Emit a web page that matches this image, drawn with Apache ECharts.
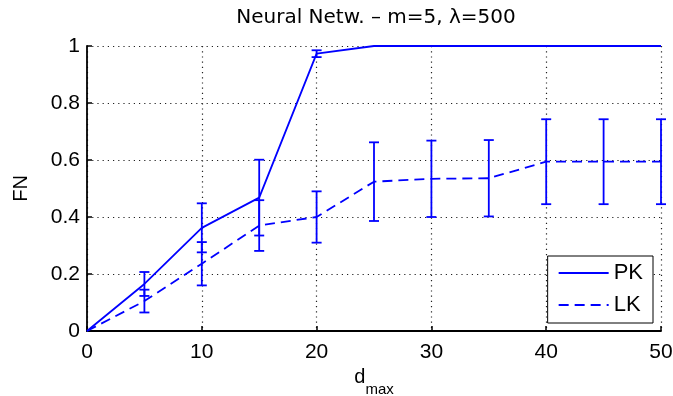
<!DOCTYPE html>
<html>
<head>
<meta charset="utf-8">
<script src="https://cdn.jsdelivr.net/npm/echarts@6/dist/echarts.min.js"></script>
<style>
  html, body { margin: 0; padding: 0; background: #fff; }
  #chart { width: 673px; height: 396px; }
</style>
</head>
<body>
<div id="chart"></div>
<script>
// d_max values
const dmax = [0, 5, 10, 15, 20, 25, 30, 35, 40, 45, 50];
// PK mean and error (half-width)
const pkMean = [0, 0.165, 0.362, 0.468, 0.973, 1, 1, 1, 1, 1, 1];
const pkErr  = [0, 0.042, 0.086, 0.133, 0.012, 0, 0, 0, 0, 0, 0];
// LK mean and error
const lkMean = [0, 0.105, 0.236, 0.370, 0.400, 0.524, 0.534, 0.536, 0.594, 0.594, 0.594];
const lkErr  = [0, 0.040, 0.076, 0.089, 0.090, 0.138, 0.134, 0.134, 0.149, 0.149, 0.149];

const blue = '#0000ff';
const font = 'Liberation Sans, Arial, sans-serif';

function errData(mean, err) {
    return dmax.map((x, i) => [x, mean[i] - err[i], mean[i] + err[i]]);
}

function errBars(params, api) {
    const x = api.value(0);
    const lo = api.coord([x, api.value(1)]);
    const hi = api.coord([x, api.value(2)]);
    if (Math.abs(lo[1] - hi[1]) < 0.5) return null;
    const w = 5;
    const style = { stroke: blue, lineWidth: 1.8 };
    return {
        type: 'group',
        children: [
            { type: 'line', shape: { x1: lo[0], y1: lo[1], x2: hi[0], y2: hi[1] }, style: style },
            { type: 'line', shape: { x1: lo[0] - w, y1: lo[1], x2: lo[0] + w, y2: lo[1] }, style: style },
            { type: 'line', shape: { x1: hi[0] - w, y1: hi[1], x2: hi[0] + w, y2: hi[1] }, style: style }
        ]
    };
}

const gridLine = { show: true, lineStyle: { type: [1.2, 4], color: '#222', width: 1.2 } };

let option = {
    animation: false,
    title: {
        text: 'Neural Netw. \u2013 m=5, \u03bb=500',
        left: 371,
        textAlign: 'center',
        top: 3,
        textStyle: { fontFamily: 'DejaVu Sans, sans-serif', fontSize: 20, fontWeight: 'normal', color: '#000' }
    },
    legend: {
        data: ['PK', 'LK'],
        orient: 'vertical',
        right: 20,
        bottom: 73,
        backgroundColor: '#fff',
        borderColor: '#000',
        borderWidth: 1,
        borderRadius: 0,
        padding: [6, 10, 7, 10],
        itemGap: 10,
        itemWidth: 50,
        itemHeight: 20,
        itemStyle: { opacity: 0 },
        textStyle: { fontFamily: font, fontSize: 22, color: '#000' }
    },
    grid: { left: 87, right: 12, top: 46, bottom: 65, outerBoundsMode: 'none' },
    xAxis: {
        type: 'value',
        min: 0,
        max: 50,
        interval: 10,
        name: '{d|d}{s|max}',
        nameLocation: 'middle',
        nameGap: 34,
        nameTextStyle: {
            rich: {
                d: { fontFamily: font, fontSize: 20, color: '#000' },
                s: { fontFamily: font, fontSize: 15, color: '#000', verticalAlign: 'bottom', padding: [0, 0, -9, 0] }
            }
        },
        axisLine: { lineStyle: { color: '#000', width: 1.8 } },
        axisTick: { inside: true, length: 5, lineStyle: { color: '#000', width: 1.5 } },
        axisLabel: { fontFamily: font, fontSize: 21, color: '#000', margin: 11 },
        splitLine: gridLine
    },
    yAxis: {
        type: 'value',
        min: 0,
        max: 1,
        interval: 0.2,
        name: 'FN',
        nameLocation: 'middle',
        nameGap: 56,
        nameTextStyle: { fontFamily: font, fontSize: 20, color: '#000' },
        axisLine: { show: true, lineStyle: { color: '#000', width: 1.8 } },
        axisTick: { show: true, inside: true, length: 5, lineStyle: { color: '#000', width: 1.5 } },
        axisLabel: { fontFamily: font, fontSize: 21, color: '#000', margin: 7 },
        splitLine: gridLine
    },
    series: [
        {
            name: 'PK',
            type: 'line',
            data: dmax.map((x, i) => [x, pkMean[i]]),
            symbol: 'none',
            color: blue,
            lineStyle: { color: blue, width: 1.8 }
        },
        {
            name: 'LK',
            type: 'line',
            data: dmax.map((x, i) => [x, lkMean[i]]),
            symbol: 'none',
            color: blue,
            lineStyle: { color: blue, width: 1.8, type: [10, 6] }
        },
        {
            type: 'custom',
            renderItem: errBars,
            data: errData(pkMean, pkErr),
            encode: { x: 0, y: [1, 2] },
            z: 3
        },
        {
            type: 'custom',
            renderItem: errBars,
            data: errData(lkMean, lkErr),
            encode: { x: 0, y: [1, 2] },
            z: 3
        }
    ]
};

let chartDom = document.getElementById('chart');
let myChart = echarts.init(chartDom);
myChart.setOption(option);
</script>
</body>
</html>
